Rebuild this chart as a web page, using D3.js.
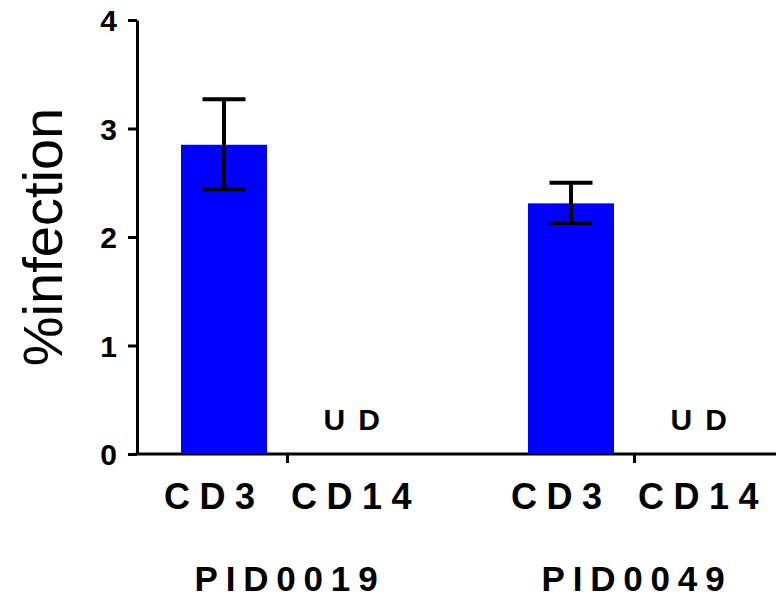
<!DOCTYPE html>
<html>
<head>
<meta charset="utf-8">
<script src="https://d3js.org/d3.v7.min.js"></script>
<style>
  body { margin: 0; background: #fff; }
  svg text { font-family: 'Liberation Sans', Arial, sans-serif; fill: #000; }
  .tick-label { font-size: 30px; font-weight: bold; }
  .cat-label { font-size: 36px; font-weight: bold; letter-spacing: 9.5px; }
  .group-label { font-size: 35px; font-weight: bold; letter-spacing: 7.8px; }
  .ud-label { font-size: 30px; font-weight: bold; letter-spacing: 13px; }
</style>
</head>
<body>
<script>
// data
var groups = ["PID0019", "PID0049"];
var cells = ["CD3", "CD14"];
var means = [[2.85, null], [2.31, null]];   // null = undetected (UD)
var errLow = [[2.44, null], [2.13, null]];
var errHigh = [[3.27, null], [2.50, null]];
var yTicks = [0, 1, 2, 3, 4];

var W = 776, H = 600;
var svg = d3.select("body").append("svg").attr("width", W).attr("height", H);

var y = d3.scaleLinear().domain([0, 4]).range([454, 20]);
var x0 = d3.scalePoint().domain(groups).range([287.5, 634.5]);
var x1 = d3.scaleBand().domain(cells).range([-127, 127])
    .paddingInner(0.323).paddingOuter(0.1615);

var axisX = 137;

// y axis
var yAxis = svg.append("g")
    .attr("transform", "translate(" + axisX + ",0)")
    .call(d3.axisLeft(y).tickValues(yTicks).tickSize(9).tickSizeOuter(0).tickPadding(11).tickFormat(d3.format("d")));
yAxis.select(".domain").attr("stroke", "#000").attr("stroke-width", 3);
yAxis.selectAll(".tick line").attr("stroke", "#000").attr("stroke-width", 3);
yAxis.selectAll(".tick text").attr("class", "tick-label").attr("font-size", null).attr("font-family", null).attr("dy", "0.36em");

// x axis line + group ticks
svg.append("line")
    .attr("x1", axisX - 1.5).attr("x2", W)
    .attr("y1", y(0)).attr("y2", y(0))
    .attr("stroke", "#000").attr("stroke-width", 3);
svg.selectAll(".gtick").data(groups).enter().append("line")
    .attr("x1", function(d) { return x0(d); })
    .attr("x2", function(d) { return x0(d); })
    .attr("y1", y(0)).attr("y2", y(0) + 9)
    .attr("stroke", "#000").attr("stroke-width", 3);

var items = [];
groups.forEach(function(g, gi) {
  cells.forEach(function(c, ci) {
    items.push({ group: g, cell: c, mean: means[gi][ci], lo: errLow[gi][ci], hi: errHigh[gi][ci] });
  });
});
function cx(d) { return x0(d.group) + x1(d.cell) + x1.bandwidth() / 2; }

var present = items.filter(function(d) { return d.mean != null; });

// bars
svg.selectAll(".bar").data(present).enter().append("rect")
    .attr("x", function(d) { return x0(d.group) + x1(d.cell); })
    .attr("width", x1.bandwidth())
    .attr("y", function(d) { return y(d.mean); })
    .attr("height", function(d) { return y(0) - y(d.mean); })
    .attr("fill", "#0000ff");

// error bars
var eb = svg.selectAll(".err").data(present).enter().append("g");
eb.append("line")
    .attr("x1", cx).attr("x2", cx)
    .attr("y1", function(d) { return y(d.hi); })
    .attr("y2", function(d) { return y(d.lo); })
    .attr("stroke", "#000").attr("stroke-width", 4);
eb.selectAll(".cap").data(function(d) { return [d.hi, d.lo].map(function(v) { return { d: d, v: v }; }); })
  .enter().append("line")
    .attr("x1", function(e) { return cx(e.d) - 21.5; })
    .attr("x2", function(e) { return cx(e.d) + 21.5; })
    .attr("y1", function(e) { return y(e.v); })
    .attr("y2", function(e) { return y(e.v); })
    .attr("stroke", "#000").attr("stroke-width", 4);

// UD labels
svg.selectAll(".ud").data(items.filter(function(d) { return d.mean == null; })).enter().append("text")
    .attr("class", "ud-label")
    .attr("x", function(d) { return cx(d) - 27.5; })
    .attr("y", 430)
    .text("UD");

// category labels
svg.selectAll(".cat").data(items).enter().append("text")
    .attr("class", "cat-label")
    .attr("x", function(d) { return cx(d) - 60; })
    .attr("y", 509)
    .text(function(d) { return d.cell; });

// group labels
svg.selectAll(".grp").data(groups).enter().append("text")
    .attr("class", "group-label")
    .attr("x", function(d) { return x0(d) + 2.5; })
    .attr("y", 591)
    .attr("text-anchor", "middle")
    .text(function(d) { return d; });

// y axis title
svg.append("text")
    .attr("transform", "translate(62," + y(2) + ") rotate(-90)")
    .attr("text-anchor", "middle")
    .attr("font-size", 56)
    .text("%infection");
</script>
</body>
</html>
